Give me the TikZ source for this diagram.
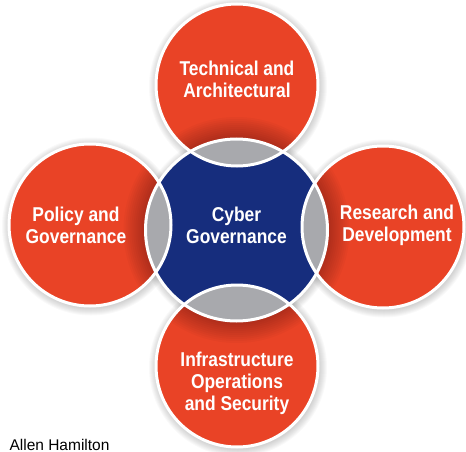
\documentclass[tikz,border=0pt]{standalone}
\usepackage{fontspec}
\setmainfont{Liberation Sans}
\newfontfamily\discFont{Liberation Sans}[FakeStretch=0.87]
\usetikzlibrary{calc}
\definecolor{discOrange}{RGB}{233,67,38}
\definecolor{coreBlue}{RGB}{22,45,125}
\definecolor{coreBlueDark}{RGB}{13,32,100}
\definecolor{lensGray}{RGB}{168,169,173}
\pgfdeclareradialshading{coreShade}{\pgfpoint{0bp}{0bp}}{color(0bp)=(coreBlue); color(28bp)=(coreBlue); color(50bp)=(coreBlueDark)}
\begin{document}
\begin{tikzpicture}[x=1pt,y=-1pt,
  discText/.style={text=white, align=center, font=\discFont\bfseries\fontsize{20}{22}\selectfont}]
    \newcommand{\softHalo}[2]{
        \foreach \s in {1,...,8}
            \fill[black, opacity=0.025] ($(#1)+(1,1.5)$) circle ({#2+\s});
    }
  \useasboundingbox (0,0) rectangle (466,452);

  \coordinate (cyberGov) at (236.5,230);
  \coordinate (techArch) at (237,85);
  \coordinate (infraOps) at (237,366);
  \coordinate (policyGov) at (90,225);
  \coordinate (researchDev) at (383,227);

  % shadows on the white ground
  \foreach \c in {techArch,infraOps,policyGov,researchDev} {\softHalo{\c}{81}}
  \softHalo{cyberGov}{91}

  % orange discs, darker where the core throws its shadow
  \foreach \c in {techArch,infraOps,policyGov,researchDev} {
    \fill[discOrange] (\c) circle (81);
    \begin{scope}
      \clip (\c) circle (81);
      \foreach \s in {2,4,...,22}
        \fill[black, opacity=0.022] (cyberGov) circle ({91+\s});
    \end{scope}
  }

  \shade[shading=coreShade] (cyberGov) circle (91);

  % grey overlaps
  \foreach \c in {techArch,infraOps,policyGov,researchDev} {
    \begin{scope}
      \clip (cyberGov) circle (91);
      \fill[lensGray] (\c) circle (81);
    \end{scope}
  }

  \foreach \c/\r in {techArch/81,infraOps/81,policyGov/81,researchDev/81,cyberGov/91}
    \draw[white, line width=3pt] (\c) circle (\r);

  \node[discText] (techArchText) at (237,79) {Technical and\\Architectural};
  \node[discText] (cyberGovText) at (236.5,225) {Cyber\\Governance};
  \node[discText] (policyGovText) at (76,225) {Policy and\\Governance};
  \node[discText] (researchDevText) at (397,225) {Research and\\Development};
  \node[discText] (infraOpsText) at (237,383) {Infrastructure\\Operations\\and Security};

  \node[anchor=base west, font=\fontsize{15.5}{18}\selectfont] (credit) at (6,450) {Allen Hamilton};
\end{tikzpicture}
\end{document}
